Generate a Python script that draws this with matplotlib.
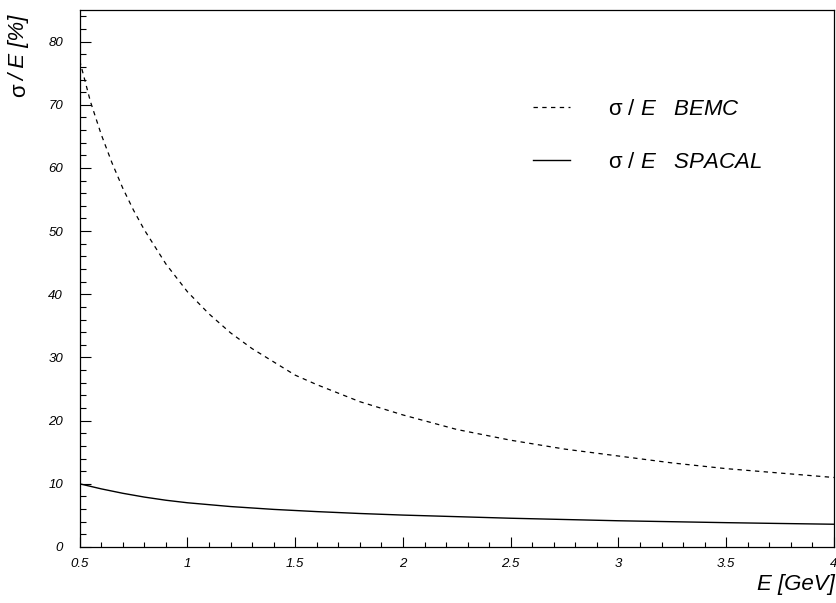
import matplotlib
matplotlib.use("Agg")
import matplotlib.pyplot as plt
from matplotlib.ticker import MultipleLocator, FuncFormatter

plt.rcParams["font.family"] = ["Liberation Sans", "DejaVu Sans"]
plt.rcParams["mathtext.fontset"] = "custom"
plt.rcParams["mathtext.rm"] = "Liberation Sans"
plt.rcParams["mathtext.it"] = "Liberation Sans:italic"

# energy resolution curves
energy_bemc = [0.5, 0.55, 0.6, 0.65, 0.7, 0.75, 0.8, 0.9, 1.0, 1.1, 1.2, 1.3,
               1.4, 1.5, 1.6, 1.8, 2.0, 2.25, 2.5, 2.75, 3.0, 3.25, 3.5, 3.75, 4.0]
res_bemc = [77.0, 70.5, 65.3, 60.8, 56.8, 53.3, 50.2, 44.8, 40.4, 36.9, 33.9, 31.4,
            29.3, 27.2, 25.7, 23.0, 20.9, 18.6, 16.9, 15.5, 14.4, 13.3, 12.4, 11.7, 11.0]

energy_spacal = [0.5, 0.6, 0.7, 0.8, 0.9, 1.0, 1.2, 1.4, 1.6, 1.8, 2.0, 2.25,
                 2.5, 2.75, 3.0, 3.25, 3.5, 3.75, 4.0]
res_spacal = [10.0, 9.2, 8.5, 7.9, 7.4, 7.0, 6.4, 5.95, 5.6, 5.3, 5.05, 4.8,
              4.55, 4.35, 4.15, 4.0, 3.85, 3.72, 3.6]

label_bemc = r"$\mathrm{\sigma}\ \mathit{/\ E\ \ \ BEMC}$"
label_spacal = r"$\mathrm{\sigma}\ \mathit{/\ E\ \ \ SPACAL}$"

fig = plt.figure(figsize=(8.36, 6.03), dpi=100)
ax = fig.add_axes([0.0953, 0.0929, 0.9023, 0.8905])

ax.plot(energy_bemc, res_bemc, color="black", lw=0.9, linestyle=(0, (3.5, 3.5)),
        label=label_bemc)
ax.plot(energy_spacal, res_spacal, color="black", lw=1.0, label=label_spacal)

ax.set_xlim(0.5, 4.0)
ax.set_ylim(0, 85)

ax.xaxis.set_major_locator(MultipleLocator(0.5))
ax.xaxis.set_minor_locator(MultipleLocator(0.1))
ax.yaxis.set_major_locator(MultipleLocator(10))
ax.yaxis.set_minor_locator(MultipleLocator(2))
ax.xaxis.set_major_formatter(FuncFormatter(lambda v, p: f"{v:g}"))
ax.yaxis.set_major_formatter(FuncFormatter(lambda v, p: f"{v:g}"))

ax.tick_params(which="both", direction="in", top=False, right=False, width=0.8)
ax.tick_params(axis="x", which="major", length=7, pad=8, labelsize=9.5)
ax.tick_params(axis="x", which="minor", length=3.5)
ax.tick_params(axis="y", which="major", length=8, pad=12, labelsize=9.5)
ax.tick_params(axis="y", which="minor", length=4.5)
for lab in ax.get_xticklabels() + ax.get_yticklabels():
    lab.set_style("italic")
for sp in ax.spines.values():
    sp.set_linewidth(0.9)

leg = ax.legend(loc="upper left", bbox_to_anchor=(0.601, 0.834), frameon=False,
                fontsize=16, handlelength=1.67, handletextpad=1.7,
                labelspacing=1.43, borderpad=0, borderaxespad=0)

# axis titles
fig.text(0.999, 0.021, "E [GeV]", ha="right", va="baseline", fontsize=16,
         style="italic")
fig.text(0.024, 1 - 97 / 603, "σ", rotation=90, ha="center", va="bottom",
         fontsize=16)
fig.text(0.024, 1 - 81 / 603, "/ E [%]", rotation=90, ha="center", va="bottom",
         fontsize=16, style="italic")

fig.savefig("out.png", dpi=100)
